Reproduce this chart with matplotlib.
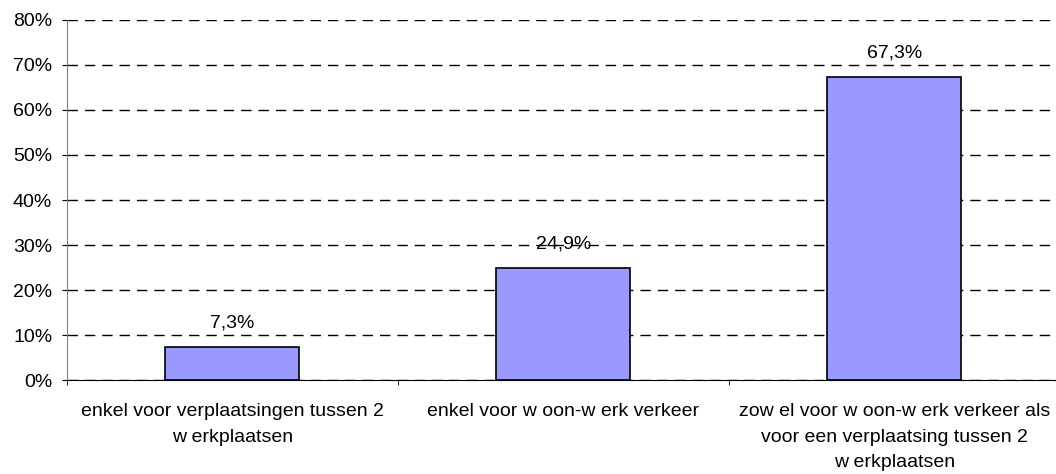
import numpy as np
import matplotlib.pyplot as plt
from matplotlib.ticker import FuncFormatter

# Data
categories = [
    "enkel voor verplaatsingen tussen 2\nw erkplaatsen",
    "enkel voor w oon-w erk verkeer",
    "zow el voor w oon-w erk verkeer als\nvoor een verplaatsing tussen 2\nw erkplaatsen",
]
values = [7.3, 24.9, 67.3]
value_labels = ["7,3%", "24,9%", "67,3%"]

plt.rcParams['font.family'] = ['Liberation Sans', 'DejaVu Sans']
FS = 14

fig = plt.figure(figsize=(10.56, 4.74), dpi=100)
ax = fig.add_axes([0.0634, 0.198, 0.94, 0.76])

x = np.arange(len(categories))
bars = ax.bar(x, values, width=0.405, color='#9999FF', edgecolor='black',
              linewidth=1.2, zorder=3)

for b, lab in zip(bars, value_labels):
    ax.annotate(lab, (b.get_x() + b.get_width() / 2, b.get_height()),
                xytext=(0, 11), textcoords='offset points',
                ha='center', va='bottom', fontsize=FS)

ax.set_xlim(-0.5, len(categories) - 0.5)
ax.set_ylim(0, 80)
ax.set_yticks(np.arange(0, 81, 10))
ax.yaxis.set_major_formatter(FuncFormatter(lambda v, p: f"{int(v)}%"))

# category labels between boundary ticks
ax.set_xticks(x)
ax.set_xticklabels(categories, fontsize=FS, linespacing=1.65)
ax.tick_params(axis='x', length=0, pad=16.5)
ax.set_xticks(np.arange(-0.5, len(categories) + 0.5, 1), minor=True)
ax.tick_params(axis='x', which='minor', length=3.6, direction='out', color='black')
ax.tick_params(axis='y', length=3.6, direction='out', labelsize=FS, pad=7)

ax.grid(axis='y', linestyle=(0, (7.5, 5)), color='black', linewidth=1.0, zorder=0)

ax.spines['top'].set_visible(False)
ax.spines['right'].set_visible(False)
ax.spines['left'].set_color('#808080')
ax.spines['bottom'].set_color('black')

fig.savefig('out.png', dpi=100)
